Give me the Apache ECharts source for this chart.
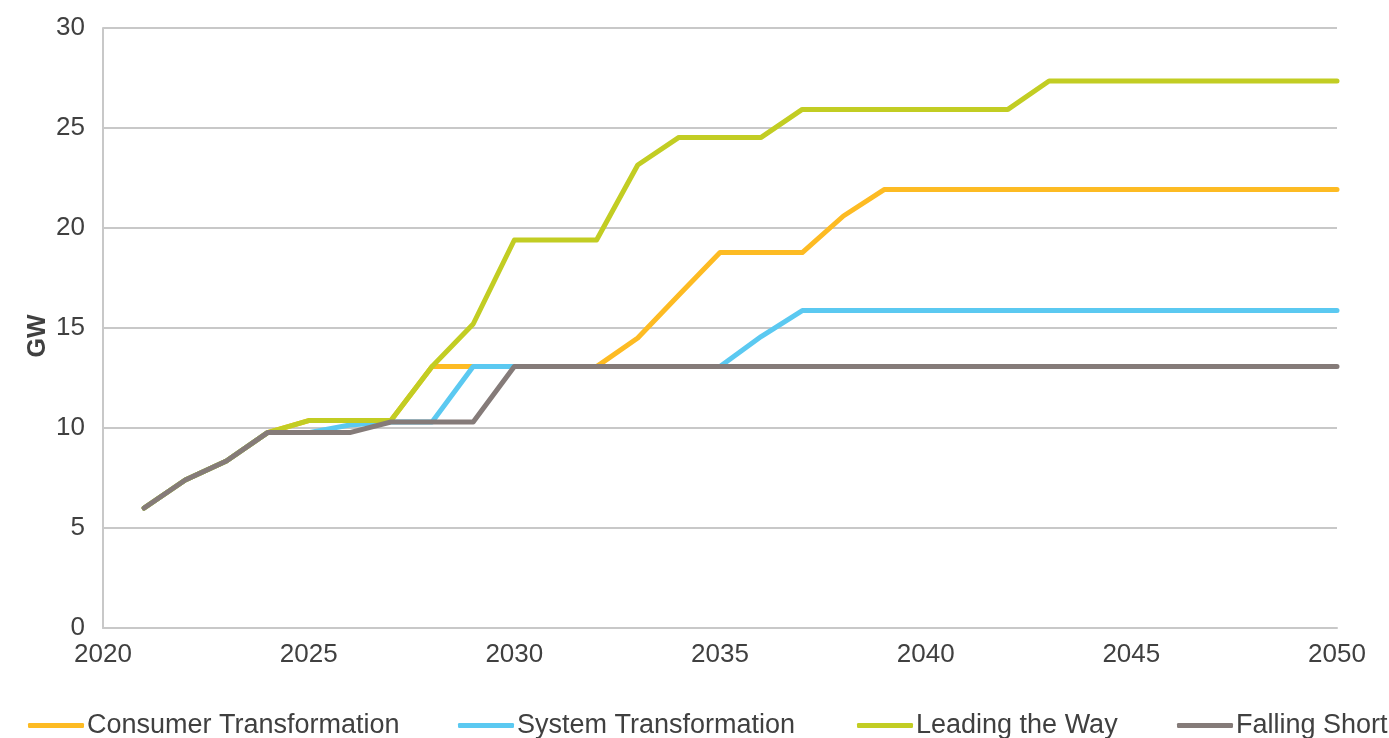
<!DOCTYPE html>
<html><head><meta charset="utf-8">
<script src="https://cdn.jsdelivr.net/npm/echarts@6/dist/echarts.min.js"></script>
<style>html,body{margin:0;padding:0;background:#fff}#c{width:1389px;height:738px}</style>
</head><body><div id="c"></div>
<script>
var years = [2021,2022,2023,2024,2025,2026,2027,2028,2029,2030,2031,2032,2033,2034,2035,2036,2037,2038,2039,2040,2041,2042,2043,2044,2045,2046,2047,2048,2049,2050];
var consumer = [6.0,7.4,8.35,9.77,10.37,10.37,10.37,13.07,13.07,13.07,13.07,13.07,14.5,16.65,18.77,18.77,18.77,20.6,21.93,21.93,21.93,21.93,21.93,21.93,21.93,21.93,21.93,21.93,21.93,21.93];
var system = [6.0,7.4,8.35,9.77,9.77,10.15,10.3,10.3,13.07,13.07,13.07,13.07,13.07,13.07,13.07,14.57,15.87,15.87,15.87,15.87,15.87,15.87,15.87,15.87,15.87,15.87,15.87,15.87,15.87,15.87];
var leading = [6.0,7.4,8.35,9.77,10.37,10.37,10.37,13.07,15.2,19.4,19.4,19.4,23.15,24.53,24.53,24.53,25.93,25.93,25.93,25.93,25.93,25.93,27.35,27.35,27.35,27.35,27.35,27.35,27.35,27.35];
var falling = [6.0,7.4,8.35,9.77,9.77,9.77,10.3,10.3,10.3,13.07,13.07,13.07,13.07,13.07,13.07,13.07,13.07,13.07,13.07,13.07,13.07,13.07,13.07,13.07,13.07,13.07,13.07,13.07,13.07,13.07];
var seriesNames = ['Consumer Transformation','System Transformation','Leading the Way','Falling Short'];
var colors = ['#FDBB23','#5BC9F1','#C2CD23','#857B79'];
var yLabel = 'GW';

function pairs(vals){ return years.map(function(y,i){ return [y, vals[i]]; }); }
var all = [consumer, system, leading, falling];
var legendLefts = [28, 458, 857, 1177];
var chart = echarts.init(document.getElementById('c'), null, {renderer:'canvas'});
var font = 'Liberation Sans, Arial, sans-serif';
chart.setOption({
  animation:false,
  color: colors,
  grid:{left:103, right:52, top:28, bottom:110, containLabel:false},
  legend: seriesNames.map(function(n,i){
    return {
      left:legendLefts[i], top:712, padding:0, itemWidth:56, itemHeight:5, icon:'roundRect',
      textStyle:{fontFamily:font, fontSize:27, color:'#404040', padding:[0,0,0,-2]},
      data:[n]
    };
  }),
  xAxis:{
    type:'value', min:2020, max:2050, interval:5,
    axisLine:{show:true, lineStyle:{color:'#C8C8C8', width:2}},
    axisTick:{show:false},
    splitLine:{show:false},
    axisLabel:{fontFamily:font, fontSize:26, color:'#404040', margin:14, formatter:function(v){return String(v);}}
  },
  yAxis:{
    type:'value', min:0, max:30, interval:5,
    name: yLabel, nameLocation:'middle', nameGap:52, nameRotate:90, nameMoveOverlap:false,
    nameTextStyle:{fontFamily:font, fontSize:25, fontWeight:'bold', color:'#404040', padding:[0,16,0,0]},
    axisLine:{show:true, lineStyle:{color:'#C8C8C8', width:2}},
    axisTick:{show:false},
    splitLine:{show:true, lineStyle:{color:'#C8C8C8', width:2}},
    axisLabel:{fontFamily:font, fontSize:26, color:'#404040', margin:18}
  },
  series: seriesNames.map(function(n,i){
    return {name:n, type:'line', data:pairs(all[i]), showSymbol:false, symbol:'none',
      lineStyle:{width:5, color:colors[i], cap:'round', join:'round'}, z:2+i};
  })
});
</script></body></html>
